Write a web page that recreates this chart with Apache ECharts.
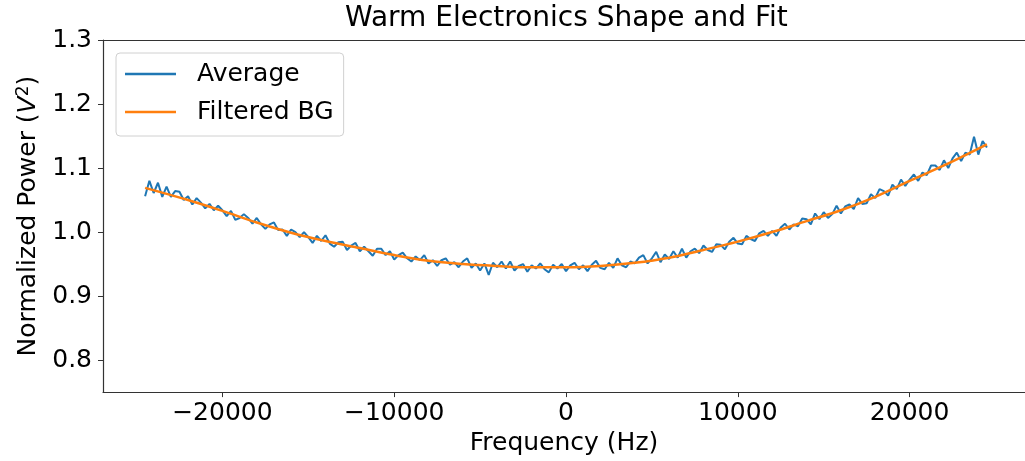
<!DOCTYPE html>
<html>
<head>
<meta charset="utf-8">
<script src="https://cdn.jsdelivr.net/npm/echarts@6/dist/echarts.min.js"></script>
<style>
html,body{margin:0;padding:0;background:#fff;overflow:hidden;}
#chart{width:1025px;height:461px;}
</style>
</head>
<body>
<div id="chart"></div>
<script>
// ---- data ----
const titleText = 'Warm Electronics Shape and Fit';
const seriesNames = ['Average', 'Filtered BG'];
const xTicks = [-20000, -10000, 0, 10000, 20000];
const yTicks = [0.8, 0.9, 1.0, 1.1, 1.2, 1.3];

// Average: FFT bins, evenly spaced from freqStart with freqStep
const freqStart = -24500;
const freqStep = 250;
const averageValues = [
  1.056, 1.080, 1.061, 1.077,
  1.055, 1.071, 1.055, 1.064,
  1.063, 1.050, 1.056, 1.043,
  1.053, 1.046, 1.037, 1.044,
  1.034, 1.041, 1.034, 1.025,
  1.033, 1.019, 1.022, 1.028,
  1.022, 1.013, 1.022, 1.012,
  1.005, 1.012, 1.015, 1.003,
  1.004, 0.994, 1.004, 1.000,
  0.992, 1.000, 0.992, 0.983,
  0.994, 0.986, 0.995, 0.982,
  0.977, 0.984, 0.985, 0.972,
  0.979, 0.983, 0.970, 0.977,
  0.970, 0.963, 0.974, 0.974,
  0.964, 0.970, 0.957, 0.964,
  0.968, 0.959, 0.954, 0.962,
  0.956, 0.964, 0.951, 0.956,
  0.947, 0.956, 0.959, 0.949,
  0.953, 0.945, 0.954, 0.959,
  0.944, 0.951, 0.940, 0.951,
  0.933, 0.952, 0.945, 0.954,
  0.943, 0.954, 0.940, 0.947,
  0.950, 0.938, 0.948, 0.943,
  0.951, 0.942, 0.937, 0.949,
  0.943, 0.950, 0.939, 0.948,
  0.952, 0.942, 0.948, 0.939,
  0.949, 0.955, 0.944, 0.942,
  0.952, 0.944, 0.959, 0.948,
  0.945, 0.954, 0.951, 0.960,
  0.964, 0.951, 0.959, 0.969,
  0.953, 0.965, 0.958, 0.970,
  0.960, 0.974, 0.960, 0.970,
  0.974, 0.967, 0.979, 0.972,
  0.969, 0.981, 0.980, 0.973,
  0.985, 0.991, 0.982, 0.981,
  0.994, 0.989, 0.986, 0.998,
  1.002, 0.994, 1.002, 0.994,
  1.007, 1.013, 1.004, 1.012,
  1.009, 1.021, 1.020, 1.012,
  1.029, 1.020, 1.031, 1.022,
  1.028, 1.041, 1.029, 1.040,
  1.043, 1.036, 1.053, 1.044,
  1.045, 1.059, 1.053, 1.067,
  1.064, 1.057, 1.074, 1.067,
  1.082, 1.072, 1.082, 1.090,
  1.080, 1.093, 1.089, 1.104,
  1.104, 1.097, 1.112, 1.100,
  1.115, 1.124, 1.111, 1.124,
  1.121, 1.149, 1.121, 1.142,
  1.132
];

// Filtered BG (smooth background)
const bgFreqs = [-24500, -22000, -20000, -18000, -16000, -14000, -12000, -10000, -8000, -6000, -4000, -2000, 0,
                 2000, 4000, 6000, 8000, 10000, 12000, 14000, 16000, 18000, 20000, 22000, 24500];
const bgValues = [1.069, 1.050, 1.033, 1.015, 0.999, 0.986, 0.975, 0.964, 0.955, 0.950, 0.947, 0.945, 0.945,
                  0.947, 0.952, 0.960, 0.972, 0.985, 1.000, 1.017, 1.034, 1.055, 1.080, 1.104, 1.137];

// ---- build ----
const averageData = averageValues.map((v, i) => [freqStart + i * freqStep, v]);
const bgData = bgFreqs.map((f, i) => [f, bgValues[i]]);

const FONT = 'DejaVu Sans';
const FS = 25;
const X_MIN = -26950, X_MAX = 26717;
const AXIS_COLOR = '#333';
const chart = echarts.init(document.getElementById('chart'), null, {renderer: 'canvas'});
const minus = v => (v < 0 ? '\u2212' + Math.abs(v) : String(v));

chart.setOption({
  animation: false,
  backgroundColor: '#fff',
  title: {
    text: titleText,
    left: 345,
    top: 5,
    padding: 0,
    textStyle: {fontFamily: FONT, fontSize: 28, fontWeight: 'normal', color: '#000'}
  },
  legend: {
    data: seriesNames,
    orient: 'vertical',
    left: 116,
    top: 53,
    backgroundColor: '#fff',
    borderColor: '#d0d0d0',
    borderWidth: 1,
    borderRadius: 4,
    padding: [8, 10, 11, 9],
    itemGap: 12,
    itemWidth: 51,
    itemHeight: 2.5,
    icon: 'rect',
    textStyle: {fontFamily: FONT, fontSize: FS, color: '#000', lineHeight: 26, padding: [0, 0, 0, 16]}
  },
  grid: {
    left: 103, right: 0, top: 40, bottom: 68, show: false
  },
  xAxis: [
    {
      type: 'value',
      min: X_MIN, max: X_MAX,
      name: 'Frequency (Hz)',
      nameLocation: 'middle',
      nameGap: 37,
      nameTextStyle: {fontFamily: FONT, fontSize: FS, color: '#000'},
      axisLine: {show: true, onZero: false, lineStyle: {color: AXIS_COLOR, width: 1.2}},
      axisTick: {show: true, length: 5, customValues: xTicks, lineStyle: {color: AXIS_COLOR, width: 1}},
      axisLabel: {customValues: xTicks, formatter: minus, fontFamily: FONT, fontSize: FS, color: '#000', margin: 9},
      splitLine: {show: false}
    },
    {
      type: 'value',
      position: 'top',
      min: X_MIN, max: X_MAX,
      axisLine: {show: true, onZero: false, lineStyle: {color: AXIS_COLOR, width: 1.2}},
      axisTick: {show: false},
      axisLabel: {show: false},
      splitLine: {show: false}
    }
  ],
  yAxis: {
    type: 'value',
    min: 0.75, max: 1.3,
    name: 'Normalized Power ({it|V}{sup|2})',
    nameLocation: 'middle',
    nameGap: 56,
    nameTextStyle: {
      fontFamily: FONT, fontSize: FS, color: '#000',
      rich: {
        it: {fontFamily: FONT, fontSize: FS, fontStyle: 'italic', color: '#000'},
        sup: {fontFamily: FONT, fontSize: 17, color: '#000', verticalAlign: 'top', padding: [0, 0, 10, 0]}
      }
    },
    axisLine: {show: true, onZero: false, lineStyle: {color: AXIS_COLOR, width: 1.2}},
    axisTick: {show: true, length: 5, customValues: yTicks, lineStyle: {color: AXIS_COLOR, width: 1}},
    axisLabel: {customValues: yTicks, formatter: v => v.toFixed(1), fontFamily: FONT, fontSize: FS, color: '#000', margin: 11},
    splitLine: {show: false}
  },
  series: [
    {
      name: seriesNames[0],
      type: 'line',
      xAxisIndex: 0,
      data: averageData,
      symbol: 'none',
      color: '#1f77b4',
      lineStyle: {color: '#1f77b4', width: 2},
      z: 2
    },
    {
      name: seriesNames[1],
      type: 'line',
      xAxisIndex: 0,
      data: bgData,
      symbol: 'none',
      smooth: 0.35,
      color: '#ff7f0e',
      lineStyle: {color: '#ff7f0e', width: 2.5},
      z: 3
    }
  ]
});
</script>
</body>
</html>
